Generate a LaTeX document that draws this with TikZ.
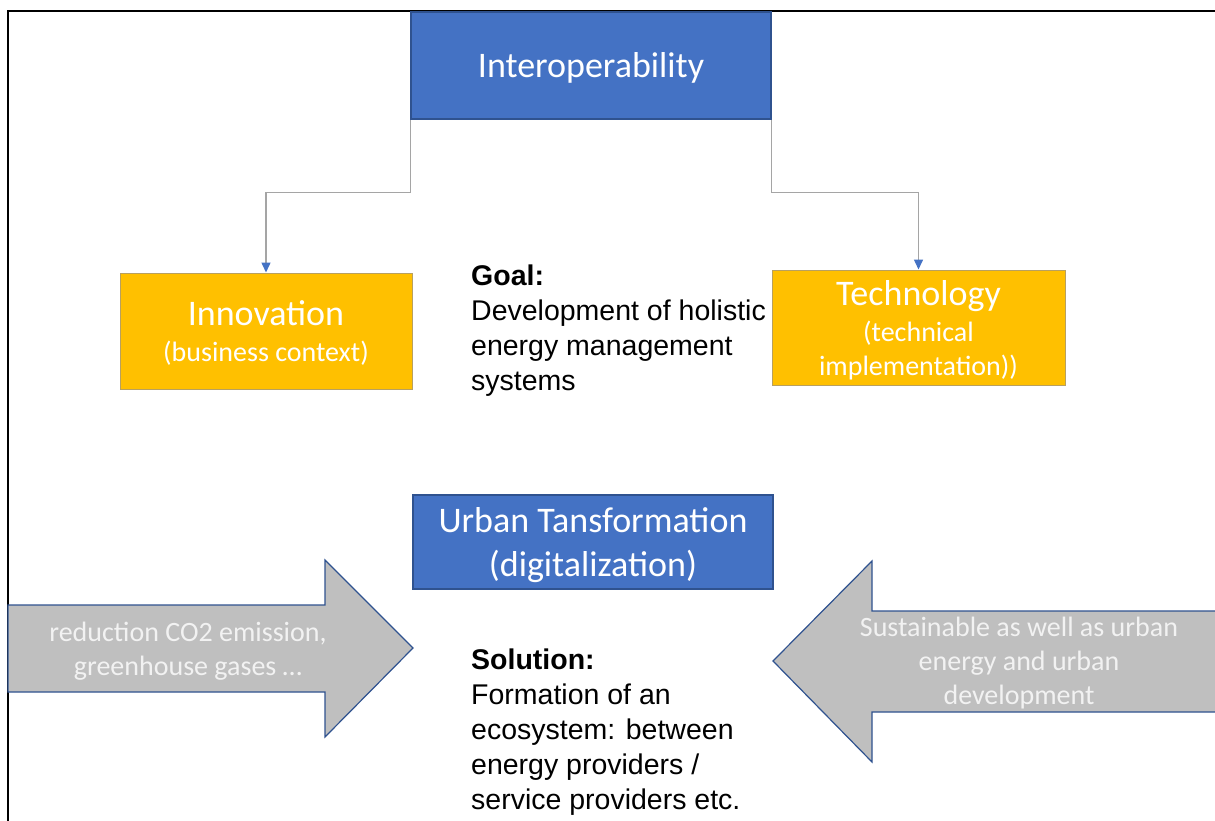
\documentclass[tikz,border=0pt]{standalone}
\usepackage{fontspec}
\setmainfont{Liberation Sans}
\newfontfamily\boxfont{Carlito}
\usepackage{xcolor}
\usepackage{tikz}
\usetikzlibrary{arrows.meta,positioning}

\definecolor{hubblue}{HTML}{4472C4}
\definecolor{hubedge}{HTML}{2F528F}
\definecolor{gold}{HTML}{FFC000}
\definecolor{goldedge}{HTML}{B8A060}
\definecolor{linkgray}{HTML}{A5A5A5}
\definecolor{pushgray}{HTML}{BFBFBF}

% smaller second line inside the boxes
\newcommand{\subline}{\boxfont\fontsize{28}{34}\selectfont}

\begin{document}
\begin{tikzpicture}[
    x=1pt, y=-1pt,
    % --- node styles -------------------------------------------------
    hub/.style={
        draw=hubedge, line width=1.2pt, fill=hubblue, text=white,
        align=center, inner sep=0pt, text depth=0pt,
        font=\boxfont\fontsize{36}{44}\selectfont
    },
    pillar/.style={
        draw=goldedge, line width=1pt, fill=gold, text=white,
        align=center, inner sep=0pt, text depth=0pt,
        font=\boxfont\fontsize{36}{38}\selectfont
    },
    note/.style={
        align=left, anchor=north west, inner sep=0pt,
        font=\fontsize{28.5}{35}\selectfont
    },
    push/.style={draw=hubedge, line width=1.2pt, fill=pushgray},
    pushtext/.style={
        text=white!95!black, align=center, inner sep=0pt,
        font=\boxfont\fontsize{28}{34}\selectfont
    },
    link/.style={
        draw=linkgray, line width=1.5pt,
        -{Triangle[length=10pt,width=9pt,color=hubblue]}
    }
]
\useasboundingbox (0,0) rectangle (1215,821);

% --- frame ----------------------------------------------------------
\draw[line width=2pt] (1215,11) -- (8,11) -- (8,821);

% --- top and the two pillars -----------------------------------------
\node[hub, minimum width=360pt, minimum height=107pt] (interop)
    at (591,65.5) {Interoperability};
\node[pillar, minimum width=292pt, minimum height=116pt] (innov)
    at (266,331) {Innovation\\[-2pt]{\subline (business context)}};
\node[pillar, minimum width=293pt, minimum height=115pt] (tech)
    at (918.5,327.5) {Technology\\[-2pt]{\subline (technical}\\[-4pt]
    {\subline implementation))}};

\draw[link] (interop.south west) |- ++(-74,73) -| (innov.north);
\draw[link] (interop.south east) |- ++(74,73) -| (tech.north);

% --- goal -----------------------------------------------------------
\node[note] (goal) at (471,265)
    {\textbf{Goal:}\\Development of holistic\\energy management\\systems};

% --- transformation and its two drivers ------------------------------
\node[hub, minimum width=360pt, minimum height=94pt] (urban)
    at (593,542) {Urban Tansformation\\(digitalization)};

\draw[push] (8,605) -- (325,605) -- (325,560) -- (413,648)
    -- (325,737) -- (325,692) -- (8,692) -- cycle;
\node[pushtext] (co2) at (188,651)
    {reduction CO2 emission,\\greenhouse gases \dots};

\draw[push] (1216,611) -- (872,611) -- (872,561) -- (773,661)
    -- (872,762) -- (872,712) -- (1216,712) -- cycle;
\node[pushtext] (sustain) at (1019,663)
    {Sustainable as well as urban\\energy and urban\\development};

% --- solution -------------------------------------------------------
\node[note] (solution) at (471,649)
    {\textbf{Solution:}\\Formation of an\\ecosystem: between\\energy providers /\\service providers etc.};

\end{tikzpicture}
\end{document}
